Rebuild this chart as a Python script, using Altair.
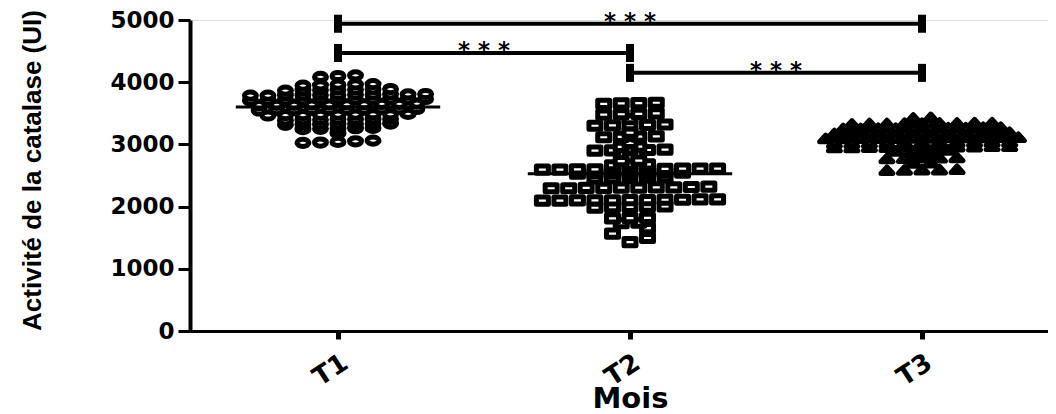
import altair as alt
import pandas as pd

groups = ["T1", "T2", "T3"]
group_pos = [1, 2, 3]

t1_values = [
    4110, 4085, 4100,
    3965, 3950, 3960, 3945, 3970,
    3880, 3870, 3885, 3875, 3890, 3865, 3880,
    3800, 3790, 3805, 3795, 3785, 3810, 3800, 3790, 3795, 3805, 3785,
    3720, 3710, 3725, 3715, 3705, 3730, 3720, 3710, 3715, 3725, 3705,
    3640, 3650, 3635, 3645, 3655, 3630, 3640, 3650, 3645, 3635,
    3560, 3550, 3565, 3555, 3545, 3570, 3560, 3550, 3555, 3565,
    3480, 3470, 3485, 3475, 3490, 3465, 3480, 3470, 3485,
    3400, 3390, 3410, 3395, 3405, 3385, 3400,
    3330, 3320, 3335, 3325, 3315, 3330, 3320,
    3260, 3250, 3265, 3255, 3245,
    3180,
    3050, 3030, 3040, 3025, 3060,
]

t2_values = [
    3670, 3660, 3650, 3665,
    3490, 3480, 3500, 3485,
    3405,
    3315, 3305, 3320, 3310, 3300,
    3190,
    3125, 3115, 3130, 3120,
    3025,
    2960, 2965,
    2910, 2900, 2915, 2905, 2910,
    2740, 2730,
    2670, 2665, 2680,
    2605, 2600, 2610, 2595, 2600, 2605, 2610, 2595, 2600, 2605, 2610,
    2540, 2535, 2545, 2530, 2540, 2535, 2545,
    2460, 2455, 2465, 2470, 2450,
    2310, 2300, 2315, 2305, 2295, 2310, 2300, 2320, 2305, 2295,
    2110, 2100, 2105, 2115, 2095, 2110, 2100, 2105, 2115, 2095, 2100,
    1995, 2000, 1990, 2005, 1985,
    1815, 1810, 1820,
    1735, 1740,
    1655,
    1565,
    1495,
    1430,
]

t3_values = [
    3430, 3420,
    3340, 3330, 3345, 3335, 3325, 3340, 3330, 3345, 3335,
    3265, 3255, 3260, 3270, 3250, 3265, 3255, 3260, 3270, 3250,
    3185, 3175, 3190, 3180, 3170, 3185, 3175, 3190, 3180, 3170, 3185,
    3105, 3095, 3110, 3100, 3090, 3105, 3095, 3110, 3100, 3090, 3105, 3095,
    3030, 3020, 3035, 3025, 3015, 3030, 3020, 3035, 3025, 3015, 3030,
    2960, 2950, 2965, 2955, 2945, 2960, 2950, 2965, 2955, 2945, 2960,
    2895, 2900, 2890, 2905,
    2830, 2825,
    2780, 2775, 2785, 2770, 2780,
    2700, 2695,
    2590, 2585, 2595, 2580, 2590,
]

medians = [3600, 2530, 3050]

sig_from = [1, 1, 2]
sig_to = [3, 2, 3]
sig_level = [4940, 4470, 4150]
sig_text = ["* * *", "* * *", "* * *"]


def swarm(values, center, spacing=0.06, gap=45):
    vals = sorted(values)
    rows = []
    for v in vals:
        if rows and v - rows[-1][0] <= gap:
            rows[-1].append(v)
        else:
            rows.append([v])
    out = []
    prev_single = None  # (value, offset) of previous single-point row
    for row in rows:
        n = len(row)
        if n == 1:
            off = 0.0
            if prev_single is not None and row[0] - prev_single[0] < 100:
                off = spacing if prev_single[1] <= 0 else -spacing
            out.append((center + off, row[0]))
            prev_single = (row[0], off)
            continue
        prev_single = None
        for i, v in enumerate(row):
            out.append((center + (i - (n - 1) / 2) * spacing, v))
    return out


recs = []
for g, c, vals in zip(groups, group_pos, [t1_values, t2_values, t3_values]):
    for xx, v in swarm(vals, c):
        recs.append({"group": g, "x": xx, "value": v})
points = pd.DataFrame(recs)

half = 0.35
med_df = pd.DataFrame({
    "x": [c - half for c in group_pos],
    "x2": [c + half for c in group_pos],
    "value": medians,
})

sig_df = pd.DataFrame({
    "x": sig_from, "x2": sig_to, "value": sig_level,
    "mid": [(a + b) / 2 for a, b in zip(sig_from, sig_to)],
    "label": sig_text,
})
cap_rows = []
for a, b, lv in zip(sig_from, sig_to, sig_level):
    for xx in (a, b):
        cap_rows.append({"x": xx, "y1": lv - 145, "y2": lv + 145})
cap_df = pd.DataFrame(cap_rows)

xscale = alt.Scale(domain=[0.4932, 3.4315], nice=False, zero=False)
yscale = alt.Scale(domain=[0, 5000], nice=False)

ellipse = "M -1 0 A 1 0.6 0 1 1 1 0 A 1 0.6 0 1 1 -1 0 Z"
rect = "M -1 -0.6 L 1 -0.6 L 1 0.6 L -1 0.6 Z"
tri = "M 0 -0.6 L 1 0.5 L -1 0.5 Z"

xaxis = alt.Axis(
    values=[1, 2, 3], labelExpr="'T' + datum.value", title="Mois",
    labelAngle=-33, labelAlign="right", labelBaseline="top", labelPadding=10,
    labelFont="DejaVu Sans", labelFontWeight="bold", labelFontSize=26, labelColor="black",
    titleFont="DejaVu Sans", titleFontWeight="bold", titleFontSize=29, titleColor="black",
    titleX=440, titleY=76, titleBaseline="alphabetic", titleAlign="center",
    domainWidth=3, domainColor="black", tickWidth=5, tickSize=8, tickColor="black",
    grid=False,
)
yaxis = alt.Axis(
    values=[0, 1000, 2000, 3000, 4000, 5000], format="d",
    title="Activité de la catalase (UI)",
    labelFont="DejaVu Sans", labelFontWeight="bold", labelFontSize=23, labelColor="black",
    labelPadding=4,
    titleFont="Liberation Sans", titleFontWeight="bold", titleFontSize=26,
    titleColor="black", titleX=-158, titleY=150, titleAngle=270,
    titleAlign="center", titleBaseline="middle",
    domainWidth=4, domainColor="black", tickWidth=3, tickSize=12, tickColor="black",
    grid=False,
)

pts = alt.Chart(points).mark_point(
    filled=False, fill="white", stroke="black", strokeWidth=5, strokeJoin="round",
    size=144, opacity=1,
).encode(
    x=alt.X("x:Q", scale=xscale, axis=xaxis),
    y=alt.Y("value:Q", scale=yscale, axis=yaxis),
    shape=alt.Shape("group:N", scale=alt.Scale(domain=groups, range=[ellipse, rect, tri]), legend=None),
)

med = alt.Chart(med_df).mark_rule(color="black", strokeWidth=3).encode(
    x=alt.X("x:Q", scale=xscale), x2="x2:Q", y=alt.Y("value:Q", scale=yscale)
)

bars = alt.Chart(sig_df).mark_rule(color="black", strokeWidth=4).encode(
    x=alt.X("x:Q", scale=xscale), x2="x2:Q", y=alt.Y("value:Q", scale=yscale)
)
caps = alt.Chart(cap_df).mark_rule(color="black", strokeWidth=8).encode(
    x=alt.X("x:Q", scale=xscale), y=alt.Y("y1:Q", scale=yscale), y2="y2:Q"
)
stars = alt.Chart(sig_df).mark_text(
    font="DejaVu Sans", fontWeight="bold", fontSize=23, color="black",
    baseline="alphabetic", align="center", dy=5,
).encode(
    x=alt.X("mid:Q", scale=xscale), y=alt.Y("value:Q", scale=yscale), text="label:N"
)

chart = alt.layer(pts, med, bars, caps, stars).properties(
    width=858, height=311,
    autosize=alt.AutoSizeParams(type="none"),
    padding={"left": 182, "top": 12, "right": 0, "bottom": 83},
).configure_view(stroke=None).configure(background="white")

chart.save("out.html", embed_options={"renderer": "svg", "actions": False})
